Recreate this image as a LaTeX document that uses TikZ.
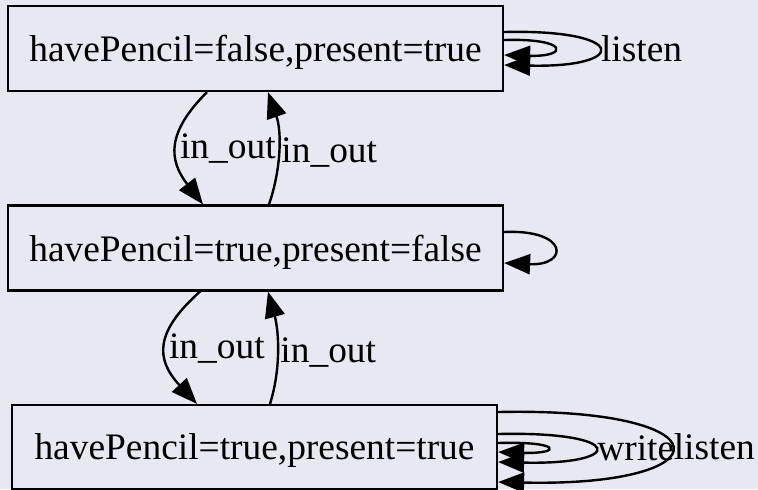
\documentclass[tikz,border=0pt]{standalone}
\usepackage{fontspec}
\setmainfont{Liberation Serif}
\usetikzlibrary{arrows.meta,calc}
\definecolor{bg}{RGB}{232,232,242}
\def\dedge{\draw[edge]}

\begin{document}
\begin{tikzpicture}[x=0.5pt,y=-0.5pt,
    every node/.style={font=\fontsize{18.7}{22}\selectfont,text depth=0pt},
    state/.style={draw,line width=1.1pt,minimum width=247.5pt,minimum height=42.5pt,inner sep=0pt},
    edge/.style={line width=1.2pt,-{Triangle[length=13pt,width=10pt]}},
    lbl/.style={right,inner sep=1pt}]
                \fill[bg] (0,0) rectangle (758,489);
                \useasboundingbox (0,0) rectangle (758,489);
                \node[state] (ft) at (255.5,48.5) {havePencil=false,present=true};
                \node[state] (tf) at (255.5,248)  {havePencil=true,present=false};
                \node[state,minimum width=242.5pt,minimum height=42pt] (tt) at (254.5,447) {havePencil=true,present=true};
                \dedge ($(ft.south)+(-48.5,0)$) .. controls +(-40,40) and +(-35,-45) .. ($(tf.north)+(-52.5,0)$) node[lbl,pos=0.5] {in\_out};
                \dedge ($(tf.north)+(13.5,0)$) .. controls +(12,-35) and +(14,40) .. ($(ft.south)+(12.5,0)$) node[lbl,pos=0.5] {in\_out};
                \dedge ($(tf.south)+(-55.5,0)$) .. controls +(-45,40) and +(-42,-45) .. ($(tt.north)+(-57.5,0)$) node[lbl,pos=0.5] {in\_out};
                \dedge ($(tt.north)+(15.5,0)$) .. controls +(11,-35) and +(11,40) .. ($(tf.south)+(12.5,0)$) node[lbl,pos=0.5] {in\_out};
                \dedge ($(ft.east)+(0,-16.5)$) .. controls +(125,-3) and +(125,3) .. ($(ft.east)+(0,16.5)$) node[lbl,pos=0.5] {listen};
                \dedge ($(ft.east)+(0,-8.5)$) .. controls +(65,-2) and +(65,2) .. ($(ft.east)+(0,6.5)$);
                \dedge ($(tf.east)+(0,-16)$) .. controls +(65,-3) and +(65,3) .. ($(tf.east)+(0,15)$);
                \dedge ($(tt.east)+(0,-35)$) .. controls +(230,-5) and +(230,5) .. ($(tt.east)+(0,35)$) node[lbl,pos=0.5] {listen};
                \dedge ($(tt.east)+(0,-13)$) .. controls +(128,-3) and +(128,3) .. ($(tt.east)+(0,15)$) node[lbl,pos=0.5] {write};
                \dedge ($(tt.east)+(0,-4)$) .. controls +(64,-2) and +(64,2) .. ($(tt.east)+(0,5)$);
            \end{tikzpicture}
\end{document}
